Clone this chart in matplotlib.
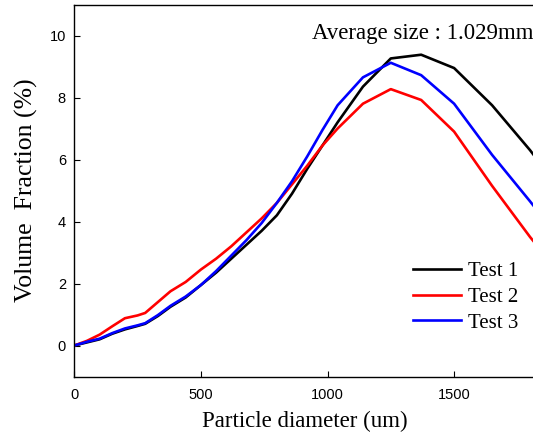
import matplotlib

matplotlib.use("Agg")
import matplotlib.pyplot as plt

# particle diameter (um) and volume fraction (%)
diam = [0, 50, 100, 150, 200, 250, 280, 330, 380, 440, 500, 560, 620, 680,
        740, 800, 860, 920, 980, 1040, 1140, 1250, 1370, 1500, 1650, 1800, 1950]
test1 = [0, 0.1, 0.2, 0.38, 0.52, 0.63, 0.7, 0.95, 1.25, 1.55, 1.95, 2.35,
         2.8, 3.25, 3.7, 4.2, 4.9, 5.7, 6.45, 7.2, 8.35, 9.26, 9.38, 8.95,
         7.75, 6.3, 4.7]
test2 = [0, 0.15, 0.35, 0.62, 0.88, 0.97, 1.05, 1.4, 1.75, 2.05, 2.45, 2.8,
         3.2, 3.65, 4.1, 4.6, 5.2, 5.8, 6.45, 7.0, 7.8, 8.27, 7.92, 6.9,
         5.15, 3.5, 2.0]
test3 = [0, 0.12, 0.22, 0.4, 0.55, 0.65, 0.72, 0.98, 1.28, 1.58, 1.95, 2.4,
         2.9, 3.4, 3.95, 4.6, 5.3, 6.1, 6.95, 7.75, 8.65, 9.12, 8.72, 7.8,
         6.15, 4.65, 3.1]

SERIF = "Liberation Serif"
SANS = "Liberation Sans"

fig = plt.figure(figsize=(5.33, 4.38), dpi=100)
# axes runs past the right edge of the figure, like the cropped original
ax = fig.add_axes([74.3 / 533, 61.5 / 438, 506.4 / 533, 372 / 438])

ax.plot(diam, test1, color="black", lw=1.9, label="Test 1")
ax.plot(diam, test2, color="#ff0000", lw=1.9, label="Test 2")
ax.plot(diam, test3, color="#0000ff", lw=1.9, label="Test 3")

ax.set_xlim(0, 2000)
ax.set_ylim(-1, 11)
ax.set_xticks([0, 500, 1000, 1500])
ax.set_yticks([0, 2, 4, 6, 8, 10])
ax.tick_params(direction="in", length=4, width=0.8, labelsize=10.5, pad=6)
for lab in ax.get_xticklabels() + ax.get_yticklabels():
    lab.set_fontfamily(SANS)
ax.tick_params(axis="x", pad=8)
for sp in ax.spines.values():
    sp.set_linewidth(1.0)

# x label centred on the visible part of the axis, not the full axes
ax.set_xlabel("Particle diameter (um)", fontfamily=SERIF, fontsize=16.5, va="center")
ax.xaxis.set_label_coords(0.4556, -0.122)
ax.set_ylabel("Volume  Fraction (%)", fontfamily=SERIF, fontsize=18.5, labelpad=8)

fig.text(533 / 533, 1 - 34 / 438, "Average size : 1.029mm", ha="right",
         va="center", fontfamily=SERIF, fontsize=16.5)

ax.legend(loc="upper left", bbox_to_anchor=(403 / 533, 1 - 251 / 438),
          bbox_transform=fig.transFigure, frameon=False,
          prop={"family": SERIF, "size": 15}, handlelength=2.3,
          handletextpad=0.3, labelspacing=0.3, borderpad=0)

fig.savefig("out.png", dpi=100)
